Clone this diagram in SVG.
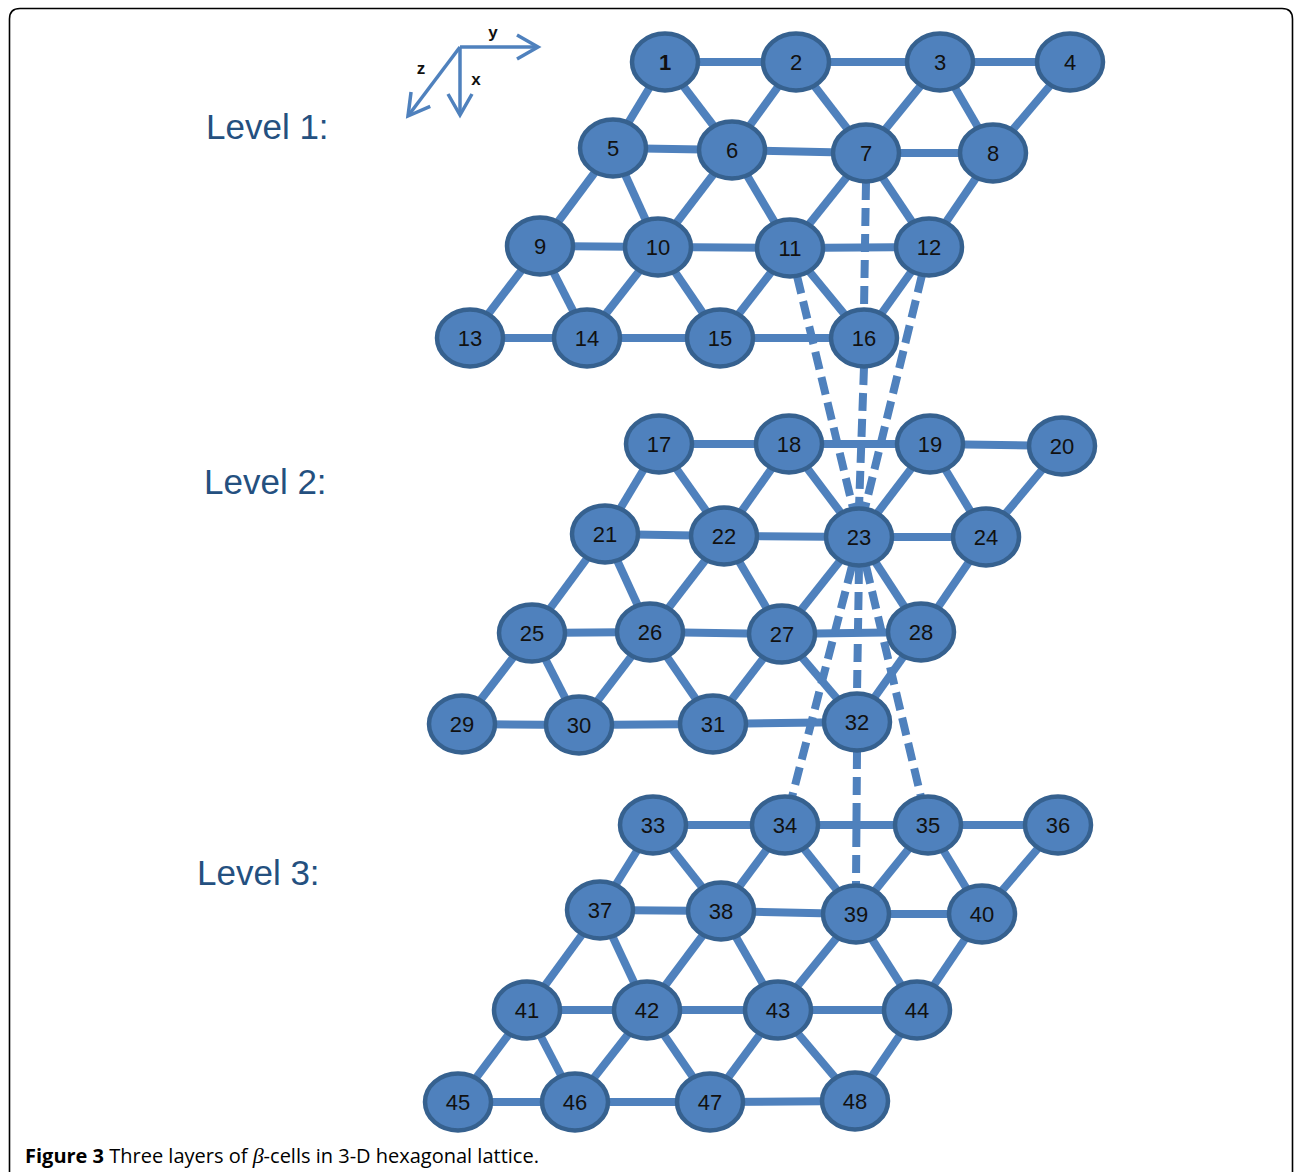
<svg xmlns="http://www.w3.org/2000/svg" width="1295" height="1172" viewBox="0 0 1295 1172">
<style>
.e{stroke:#4f81bd;stroke-width:8;stroke-linecap:butt}
.d{stroke:#4f81bd;stroke-width:8;stroke-dasharray:18 8}
.n ellipse{fill:#4f81bd;stroke:#36618f;stroke-width:4.5}
.n text{font-family:"Liberation Sans",Arial,sans-serif;font-size:22px;fill:#111;text-anchor:middle;dominant-baseline:central}
.lvl{font-family:"Liberation Sans",Arial,sans-serif;font-size:35px;fill:#24507f}
.ax{stroke:#4f81bd;stroke-width:3.5;fill:none}
.axl{font-family:"Liberation Sans",Arial,sans-serif;font-size:17px;font-weight:bold;fill:#111;text-anchor:middle}
</style>
<defs>
<marker id="ah" markerUnits="userSpaceOnUse" markerWidth="30" markerHeight="30" viewBox="-24 -15 30 30" refX="0" refY="0" orient="auto">
<path d="M-21,-12 L0,0 L-21,12" fill="none" stroke="#4f81bd" stroke-width="3.5"/>
</marker>
</defs>
<rect width="1295" height="1172" fill="#fff"/>
<path d="M9.5,1172 V19 Q9.5,8.5 20,8.5 H1282 Q1292.5,8.5 1292.5,19 V1172" fill="none" stroke="#000" stroke-width="1.6"/>
<g id="axes">
<line class="ax" x1="460" y1="47" x2="538" y2="47" marker-end="url(#ah)"/>
<line class="ax" x1="460" y1="47" x2="460" y2="115" marker-end="url(#ah)"/>
<line class="ax" x1="460" y1="47" x2="408" y2="116" marker-end="url(#ah)"/>
<text class="axl" x="493" y="38">y</text>
<text class="axl" x="421" y="74">z</text>
<text class="axl" x="476" y="85">x</text>
</g>
<g id="levels">
<text class="lvl" x="206" y="139">Level 1:</text>
<text class="lvl" x="204" y="494">Level 2:</text>
<text class="lvl" x="197" y="885">Level 3:</text>
</g>
<g id="connectors">
<line class="e" x1="665" y1="62" x2="796" y2="62"/><line class="e" x1="796" y1="62" x2="940" y2="62"/><line class="e" x1="940" y1="62" x2="1070" y2="62"/>
<line class="e" x1="613" y1="148" x2="732" y2="150"/><line class="e" x1="732" y1="150" x2="866" y2="153"/><line class="e" x1="866" y1="153" x2="993" y2="153"/>
<line class="e" x1="540" y1="246" x2="658" y2="247"/><line class="e" x1="658" y1="247" x2="790" y2="248"/><line class="e" x1="790" y1="248" x2="929" y2="247"/>
<line class="e" x1="470" y1="338" x2="587" y2="338"/><line class="e" x1="587" y1="338" x2="720" y2="338"/><line class="e" x1="720" y1="338" x2="864" y2="338"/>
<line class="e" x1="665" y1="62" x2="613" y2="148"/><line class="e" x1="665" y1="62" x2="732" y2="150"/><line class="e" x1="796" y1="62" x2="732" y2="150"/><line class="e" x1="796" y1="62" x2="866" y2="153"/><line class="e" x1="940" y1="62" x2="866" y2="153"/><line class="e" x1="940" y1="62" x2="993" y2="153"/><line class="e" x1="1070" y1="62" x2="993" y2="153"/>
<line class="e" x1="613" y1="148" x2="540" y2="246"/><line class="e" x1="613" y1="148" x2="658" y2="247"/><line class="e" x1="732" y1="150" x2="658" y2="247"/><line class="e" x1="732" y1="150" x2="790" y2="248"/><line class="e" x1="866" y1="153" x2="790" y2="248"/><line class="e" x1="866" y1="153" x2="929" y2="247"/><line class="e" x1="993" y1="153" x2="929" y2="247"/>
<line class="e" x1="540" y1="246" x2="470" y2="338"/><line class="e" x1="540" y1="246" x2="587" y2="338"/><line class="e" x1="658" y1="247" x2="587" y2="338"/><line class="e" x1="658" y1="247" x2="720" y2="338"/><line class="e" x1="790" y1="248" x2="720" y2="338"/><line class="e" x1="790" y1="248" x2="864" y2="338"/><line class="e" x1="929" y1="247" x2="864" y2="338"/>

<line class="e" x1="659" y1="444" x2="789" y2="444"/><line class="e" x1="789" y1="444" x2="930" y2="444"/><line class="e" x1="930" y1="444" x2="1062" y2="446"/>
<line class="e" x1="605" y1="534" x2="724" y2="536"/><line class="e" x1="724" y1="536" x2="859" y2="537"/><line class="e" x1="859" y1="537" x2="986" y2="537"/>
<line class="e" x1="532" y1="633" x2="650" y2="632"/><line class="e" x1="650" y1="632" x2="782" y2="634"/><line class="e" x1="782" y1="634" x2="921" y2="632"/>
<line class="e" x1="462" y1="724" x2="579" y2="725"/><line class="e" x1="579" y1="725" x2="713" y2="724"/><line class="e" x1="713" y1="724" x2="857" y2="722"/>
<line class="e" x1="659" y1="444" x2="605" y2="534"/><line class="e" x1="659" y1="444" x2="724" y2="536"/><line class="e" x1="789" y1="444" x2="724" y2="536"/><line class="e" x1="789" y1="444" x2="859" y2="537"/><line class="e" x1="930" y1="444" x2="859" y2="537"/><line class="e" x1="930" y1="444" x2="986" y2="537"/><line class="e" x1="1062" y1="446" x2="986" y2="537"/>
<line class="e" x1="605" y1="534" x2="532" y2="633"/><line class="e" x1="605" y1="534" x2="650" y2="632"/><line class="e" x1="724" y1="536" x2="650" y2="632"/><line class="e" x1="724" y1="536" x2="782" y2="634"/><line class="e" x1="859" y1="537" x2="782" y2="634"/><line class="e" x1="859" y1="537" x2="921" y2="632"/><line class="e" x1="986" y1="537" x2="921" y2="632"/>
<line class="e" x1="532" y1="633" x2="462" y2="724"/><line class="e" x1="532" y1="633" x2="579" y2="725"/><line class="e" x1="650" y1="632" x2="579" y2="725"/><line class="e" x1="650" y1="632" x2="713" y2="724"/><line class="e" x1="782" y1="634" x2="713" y2="724"/><line class="e" x1="782" y1="634" x2="857" y2="722"/><line class="e" x1="921" y1="632" x2="857" y2="722"/>

<line class="e" x1="653" y1="825" x2="785" y2="825"/><line class="e" x1="785" y1="825" x2="928" y2="825"/><line class="e" x1="928" y1="825" x2="1058" y2="825"/>
<line class="e" x1="600" y1="910" x2="721" y2="911"/><line class="e" x1="721" y1="911" x2="856" y2="914"/><line class="e" x1="856" y1="914" x2="982" y2="914"/>
<line class="e" x1="527" y1="1010" x2="647" y2="1010"/><line class="e" x1="647" y1="1010" x2="778" y2="1010"/><line class="e" x1="778" y1="1010" x2="917" y2="1010"/>
<line class="e" x1="458" y1="1102" x2="575" y2="1102"/><line class="e" x1="575" y1="1102" x2="710" y2="1102"/><line class="e" x1="710" y1="1102" x2="855" y2="1101"/>
<line class="e" x1="653" y1="825" x2="600" y2="910"/><line class="e" x1="653" y1="825" x2="721" y2="911"/><line class="e" x1="785" y1="825" x2="721" y2="911"/><line class="e" x1="785" y1="825" x2="856" y2="914"/><line class="e" x1="928" y1="825" x2="856" y2="914"/><line class="e" x1="928" y1="825" x2="982" y2="914"/><line class="e" x1="1058" y1="825" x2="982" y2="914"/>
<line class="e" x1="600" y1="910" x2="527" y2="1010"/><line class="e" x1="600" y1="910" x2="647" y2="1010"/><line class="e" x1="721" y1="911" x2="647" y2="1010"/><line class="e" x1="721" y1="911" x2="778" y2="1010"/><line class="e" x1="856" y1="914" x2="778" y2="1010"/><line class="e" x1="856" y1="914" x2="917" y2="1010"/><line class="e" x1="982" y1="914" x2="917" y2="1010"/>
<line class="e" x1="527" y1="1010" x2="458" y2="1102"/><line class="e" x1="527" y1="1010" x2="575" y2="1102"/><line class="e" x1="647" y1="1010" x2="575" y2="1102"/><line class="e" x1="647" y1="1010" x2="710" y2="1102"/><line class="e" x1="778" y1="1010" x2="710" y2="1102"/><line class="e" x1="778" y1="1010" x2="855" y2="1101"/><line class="e" x1="917" y1="1010" x2="855" y2="1101"/>

<line class="d" x1="866" y1="182" x2="864" y2="309"/>
<line class="d" x1="864" y1="367" x2="859" y2="508"/>
<line class="d" x1="797" y1="276" x2="853" y2="508"/>
<line class="d" x1="922" y1="275" x2="865" y2="508"/>
<line class="d" x1="859" y1="566" x2="857" y2="693"/>
<line class="d" x1="857" y1="751" x2="856" y2="885"/>
<line class="d" x1="852" y1="566" x2="792" y2="797"/>
<line class="d" x1="866" y1="566" x2="921" y2="797"/>
</g>
<g id="nodes">
<g id="n1" class="n"><ellipse cx="665" cy="62" rx="33" ry="28.5"/><text x="665" y="62" font-weight="bold">1</text></g>
<g id="n2" class="n"><ellipse cx="796" cy="62" rx="33" ry="28.5"/><text x="796" y="62">2</text></g>
<g id="n3" class="n"><ellipse cx="940" cy="62" rx="33" ry="28.5"/><text x="940" y="62">3</text></g>
<g id="n4" class="n"><ellipse cx="1070" cy="62" rx="33" ry="28.5"/><text x="1070" y="62">4</text></g>
<g id="n5" class="n"><ellipse cx="613" cy="148" rx="33" ry="28.5"/><text x="613" y="148">5</text></g>
<g id="n6" class="n"><ellipse cx="732" cy="150" rx="33" ry="28.5"/><text x="732" y="150">6</text></g>
<g id="n7" class="n"><ellipse cx="866" cy="153" rx="33" ry="28.5"/><text x="866" y="153">7</text></g>
<g id="n8" class="n"><ellipse cx="993" cy="153" rx="33" ry="28.5"/><text x="993" y="153">8</text></g>
<g id="n9" class="n"><ellipse cx="540" cy="246" rx="33" ry="28.5"/><text x="540" y="246">9</text></g>
<g id="n10" class="n"><ellipse cx="658" cy="247" rx="33" ry="28.5"/><text x="658" y="247">10</text></g>
<g id="n11" class="n"><ellipse cx="790" cy="248" rx="33" ry="28.5"/><text x="790" y="248">11</text></g>
<g id="n12" class="n"><ellipse cx="929" cy="247" rx="33" ry="28.5"/><text x="929" y="247">12</text></g>
<g id="n13" class="n"><ellipse cx="470" cy="338" rx="33" ry="28.5"/><text x="470" y="338">13</text></g>
<g id="n14" class="n"><ellipse cx="587" cy="338" rx="33" ry="28.5"/><text x="587" y="338">14</text></g>
<g id="n15" class="n"><ellipse cx="720" cy="338" rx="33" ry="28.5"/><text x="720" y="338">15</text></g>
<g id="n16" class="n"><ellipse cx="864" cy="338" rx="33" ry="28.5"/><text x="864" y="338">16</text></g>
<g id="n17" class="n"><ellipse cx="659" cy="444" rx="33" ry="28.5"/><text x="659" y="444">17</text></g>
<g id="n18" class="n"><ellipse cx="789" cy="444" rx="33" ry="28.5"/><text x="789" y="444">18</text></g>
<g id="n19" class="n"><ellipse cx="930" cy="444" rx="33" ry="28.5"/><text x="930" y="444">19</text></g>
<g id="n20" class="n"><ellipse cx="1062" cy="446" rx="33" ry="28.5"/><text x="1062" y="446">20</text></g>
<g id="n21" class="n"><ellipse cx="605" cy="534" rx="33" ry="28.5"/><text x="605" y="534">21</text></g>
<g id="n22" class="n"><ellipse cx="724" cy="536" rx="33" ry="28.5"/><text x="724" y="536">22</text></g>
<g id="n23" class="n"><ellipse cx="859" cy="537" rx="33" ry="28.5"/><text x="859" y="537">23</text></g>
<g id="n24" class="n"><ellipse cx="986" cy="537" rx="33" ry="28.5"/><text x="986" y="537">24</text></g>
<g id="n25" class="n"><ellipse cx="532" cy="633" rx="33" ry="28.5"/><text x="532" y="633">25</text></g>
<g id="n26" class="n"><ellipse cx="650" cy="632" rx="33" ry="28.5"/><text x="650" y="632">26</text></g>
<g id="n27" class="n"><ellipse cx="782" cy="634" rx="33" ry="28.5"/><text x="782" y="634">27</text></g>
<g id="n28" class="n"><ellipse cx="921" cy="632" rx="33" ry="28.5"/><text x="921" y="632">28</text></g>
<g id="n29" class="n"><ellipse cx="462" cy="724" rx="33" ry="28.5"/><text x="462" y="724">29</text></g>
<g id="n30" class="n"><ellipse cx="579" cy="725" rx="33" ry="28.5"/><text x="579" y="725">30</text></g>
<g id="n31" class="n"><ellipse cx="713" cy="724" rx="33" ry="28.5"/><text x="713" y="724">31</text></g>
<g id="n32" class="n"><ellipse cx="857" cy="722" rx="33" ry="28.5"/><text x="857" y="722">32</text></g>
<g id="n33" class="n"><ellipse cx="653" cy="825" rx="33" ry="28.5"/><text x="653" y="825">33</text></g>
<g id="n34" class="n"><ellipse cx="785" cy="825" rx="33" ry="28.5"/><text x="785" y="825">34</text></g>
<g id="n35" class="n"><ellipse cx="928" cy="825" rx="33" ry="28.5"/><text x="928" y="825">35</text></g>
<g id="n36" class="n"><ellipse cx="1058" cy="825" rx="33" ry="28.5"/><text x="1058" y="825">36</text></g>
<g id="n37" class="n"><ellipse cx="600" cy="910" rx="33" ry="28.5"/><text x="600" y="910">37</text></g>
<g id="n38" class="n"><ellipse cx="721" cy="911" rx="33" ry="28.5"/><text x="721" y="911">38</text></g>
<g id="n39" class="n"><ellipse cx="856" cy="914" rx="33" ry="28.5"/><text x="856" y="914">39</text></g>
<g id="n40" class="n"><ellipse cx="982" cy="914" rx="33" ry="28.5"/><text x="982" y="914">40</text></g>
<g id="n41" class="n"><ellipse cx="527" cy="1010" rx="33" ry="28.5"/><text x="527" y="1010">41</text></g>
<g id="n42" class="n"><ellipse cx="647" cy="1010" rx="33" ry="28.5"/><text x="647" y="1010">42</text></g>
<g id="n43" class="n"><ellipse cx="778" cy="1010" rx="33" ry="28.5"/><text x="778" y="1010">43</text></g>
<g id="n44" class="n"><ellipse cx="917" cy="1010" rx="33" ry="28.5"/><text x="917" y="1010">44</text></g>
<g id="n45" class="n"><ellipse cx="458" cy="1102" rx="33" ry="28.5"/><text x="458" y="1102">45</text></g>
<g id="n46" class="n"><ellipse cx="575" cy="1102" rx="33" ry="28.5"/><text x="575" y="1102">46</text></g>
<g id="n47" class="n"><ellipse cx="710" cy="1102" rx="33" ry="28.5"/><text x="710" y="1102">47</text></g>
<g id="n48" class="n"><ellipse cx="855" cy="1101" rx="33" ry="28.5"/><text x="855" y="1101">48</text></g>
</g>
<text id="caption" x="25" y="1163" font-family="'Open Sans','Liberation Sans',Arial,sans-serif" font-size="20px" fill="#000"><tspan font-weight="bold">Figure 3</tspan> Three layers of <tspan font-family="'Liberation Serif',serif" font-style="italic" font-size="22px">β</tspan>-cells in 3-D hexagonal lattice.</text>
</svg>
